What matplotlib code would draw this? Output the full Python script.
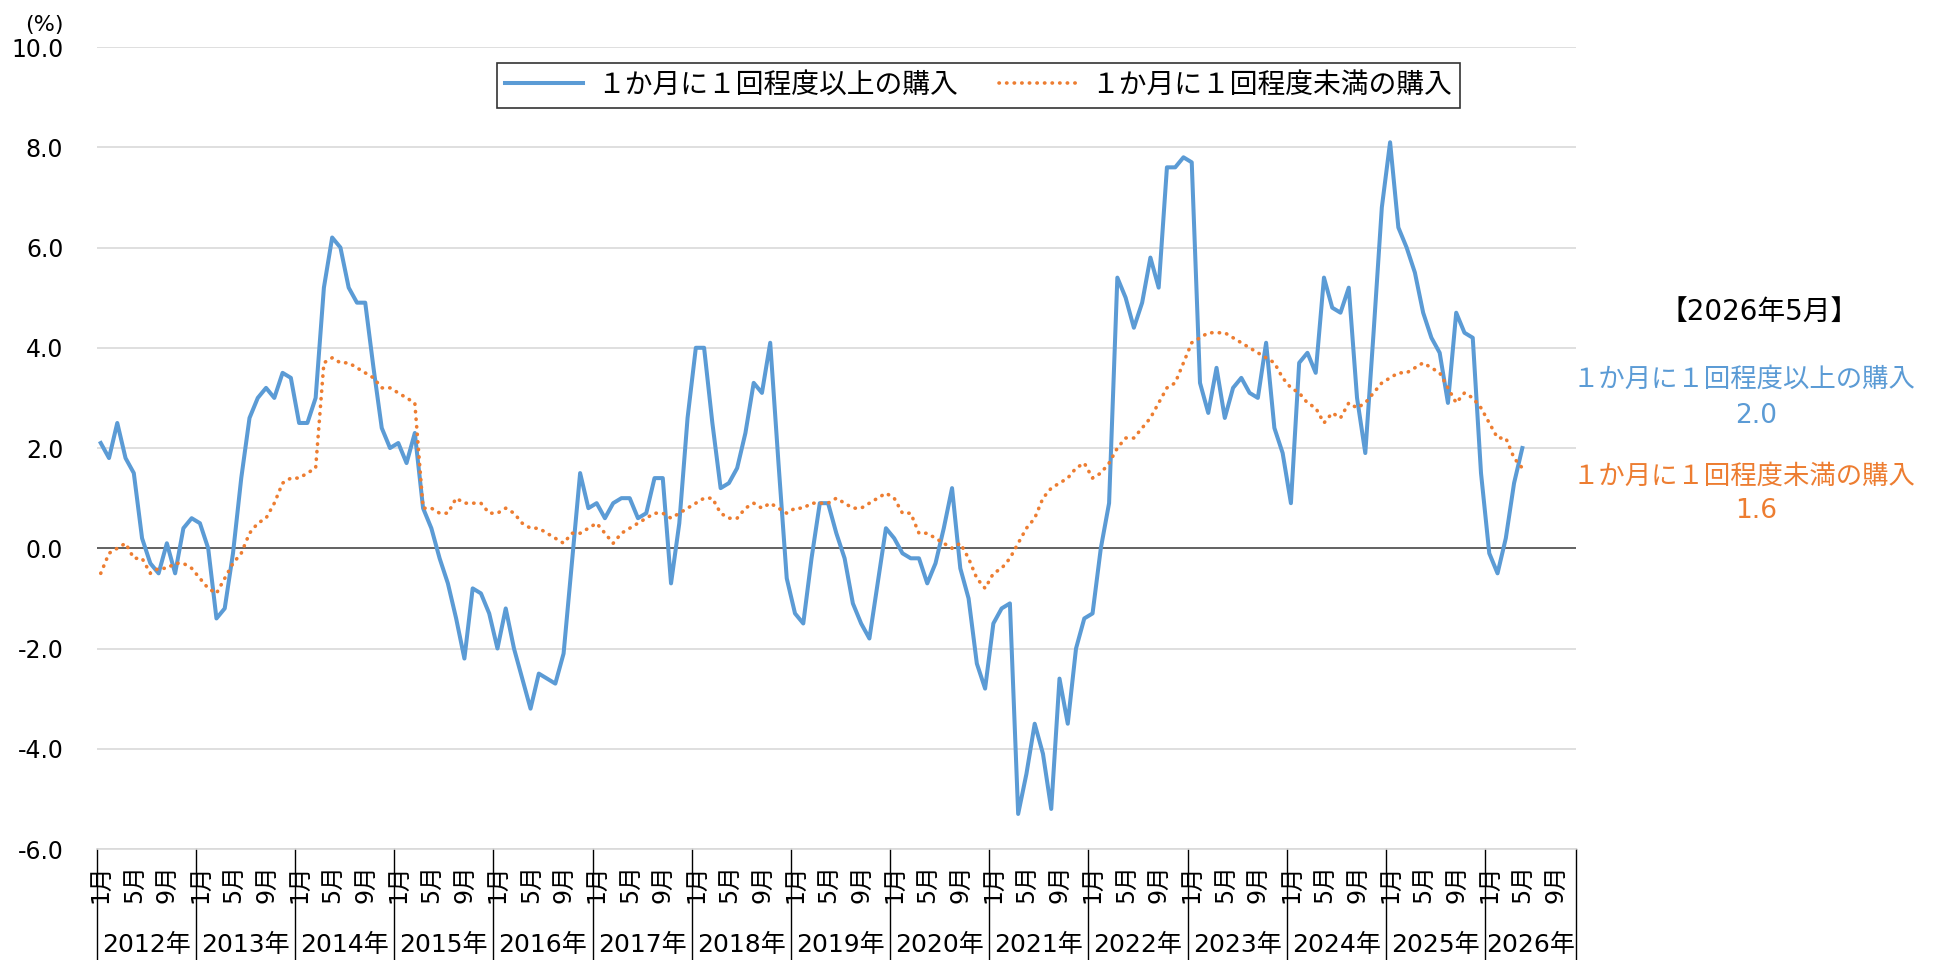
import matplotlib
matplotlib.use("Agg")
import matplotlib.pyplot as plt
import matplotlib.transforms as mtransforms
from matplotlib.lines import Line2D
import numpy as np

plt.rcParams['font.family'] = ['DejaVu Sans', 'Noto Sans CJK JP']

years = list(range(2012, 2027))
n_slots = 14 * 12 + 11          # 軸は2012年1月〜2026年11月
label_months = [1, 5, 9]

name_hi = "１か月に１回程度以上の購入"
name_lo = "１か月に１回程度未満の購入"

# 1か月に1回程度以上の購入 (前年同月比, %)
hi = [2.1, 1.8, 2.5, 1.8, 1.5, 0.2, -0.3, -0.5, 0.1, -0.5, 0.4, 0.6,
      0.5, 0.0, -1.4, -1.2, -0.1, 1.4, 2.6, 3.0, 3.2, 3.0, 3.5, 3.4,
      2.5, 2.5, 3.0, 5.2, 6.2, 6.0, 5.2, 4.9, 4.9, 3.6, 2.4, 2.0,
      2.1, 1.7, 2.3, 0.8, 0.4, -0.2, -0.7, -1.4, -2.2, -0.8, -0.9, -1.3,
      -2.0, -1.2, -2.0, -2.6, -3.2, -2.5, -2.6, -2.7, -2.1, -0.3, 1.5, 0.8,
      0.9, 0.6, 0.9, 1.0, 1.0, 0.6, 0.7, 1.4, 1.4, -0.7, 0.5, 2.6,
      4.0, 4.0, 2.5, 1.2, 1.3, 1.6, 2.3, 3.3, 3.1, 4.1, 1.7, -0.6,
      -1.3, -1.5, -0.2, 0.9, 0.9, 0.3, -0.2, -1.1, -1.5, -1.8, -0.7, 0.4,
      0.2, -0.1, -0.2, -0.2, -0.7, -0.3, 0.4, 1.2, -0.4, -1.0, -2.3, -2.8,
      -1.5, -1.2, -1.1, -5.3, -4.5, -3.5, -4.1, -5.2, -2.6, -3.5, -2.0, -1.4,
      -1.3, 0.0, 0.9, 5.4, 5.0, 4.4, 4.9, 5.8, 5.2, 7.6, 7.6, 7.8,
      7.7, 3.3, 2.7, 3.6, 2.6, 3.2, 3.4, 3.1, 3.0, 4.1, 2.4, 1.9,
      0.9, 3.7, 3.9, 3.5, 5.4, 4.8, 4.7, 5.2, 3.0, 1.9, 4.3, 6.8,
      8.1, 6.4, 6.0, 5.5, 4.7, 4.2, 3.9, 2.9, 4.7, 4.3, 4.2, 1.5,
      -0.1, -0.5, 0.2, 1.3, 2.0]

# 1か月に1回程度未満の購入
lo = [-0.5, -0.1, 0.0, 0.1, -0.2, -0.2, -0.5, -0.4, -0.4, -0.3, -0.3, -0.4,
      -0.6, -0.8, -0.9, -0.6, -0.3, -0.1, 0.3, 0.5, 0.6, 0.9, 1.3, 1.4,
      1.4, 1.5, 1.6, 3.7, 3.8, 3.7, 3.7, 3.6, 3.5, 3.4, 3.2, 3.2,
      3.1, 3.0, 2.9, 0.8, 0.8, 0.7, 0.7, 1.0, 0.9, 0.9, 0.9, 0.7,
      0.7, 0.8, 0.7, 0.5, 0.4, 0.4, 0.3, 0.2, 0.1, 0.3, 0.3, 0.4,
      0.5, 0.3, 0.1, 0.3, 0.4, 0.5, 0.6, 0.7, 0.7, 0.6, 0.7, 0.8,
      0.9, 1.0, 1.0, 0.7, 0.6, 0.6, 0.8, 0.9, 0.8, 0.9, 0.8, 0.7,
      0.8, 0.8, 0.9, 0.9, 0.9, 1.0, 0.9, 0.8, 0.8, 0.9, 1.0, 1.1,
      1.0, 0.7, 0.7, 0.3, 0.3, 0.2, 0.1, 0.0, 0.1, -0.2, -0.6, -0.8,
      -0.5, -0.4, -0.2, 0.1, 0.4, 0.6, 1.0, 1.2, 1.3, 1.4, 1.6, 1.7,
      1.4, 1.5, 1.7, 2.0, 2.2, 2.2, 2.4, 2.6, 2.9, 3.2, 3.3, 3.7,
      4.1, 4.2, 4.3, 4.3, 4.3, 4.2, 4.1, 4.0, 3.9, 3.8, 3.7, 3.4,
      3.2, 3.1, 2.9, 2.8, 2.5, 2.7, 2.6, 2.9, 2.8, 2.9, 3.1, 3.3,
      3.4, 3.5, 3.5, 3.6, 3.7, 3.6, 3.5, 3.2, 2.9, 3.1, 3.0, 2.8,
      2.5, 2.2, 2.2, 1.8, 1.6]

blue = '#5B9BD5'
orange = '#ED7D31'

fig = plt.figure(figsize=(19.4, 9.6), dpi=100)
ax = fig.add_axes([0.0498, 0.1156, 0.7626, 0.8354])

x = np.arange(len(hi))
ax.plot(x, hi, color=blue, lw=2.9, solid_joinstyle='round', label=name_hi, zorder=3)
ax.plot(x, lo, color=orange, lw=2.6, linestyle=(0, (0.1, 2.0)),
        dash_capstyle='round', label=name_lo, zorder=3)

ax.set_xlim(-0.5, n_slots - 0.5)
ax.set_ylim(-6, 10)
yt = np.arange(-6, 10.1, 2)
ax.set_yticks(yt)
ax.set_yticklabels([f"{v:.1f}" for v in yt], fontsize=17)
ax.grid(axis='y', color='#d9d9d9', lw=1.2)
ax.set_axisbelow(True)
ax.axhline(0, color='#404040', lw=1.1, zorder=2)
for s in ['left', 'right', 'top']:
    ax.spines[s].set_visible(False)
ax.spines['bottom'].set_color('#d9d9d9')
ax.spines['bottom'].set_linewidth(1.2)
ax.tick_params(axis='y', length=0, pad=24)

# 月ラベル
ticks, tlabels = [], []
for k, yr in enumerate(years):
    for m in label_months:
        idx = k * 12 + m - 1
        if idx < n_slots:
            ticks.append(idx)
            tlabels.append(f"{m}月")
ax.set_xticks(ticks)
ax.set_xticklabels(tlabels, rotation=90, fontsize=17)
ax.tick_params(axis='x', length=0, pad=11)

# 年ラベルと区切り線
trans = mtransforms.blended_transform_factory(ax.transData, fig.transFigure)
y_axis_bottom = 0.1156
for k, yr in enumerate(years):
    start = k * 12 - 0.5
    end = min(start + 12, n_slots - 0.5)
    ax.text((start + end) / 2, 0.016, f"{yr}年", transform=trans,
            ha='center', va='center', fontsize=18)
    ax.add_line(Line2D([start, start], [y_axis_bottom, 0], transform=trans,
                       color='black', lw=1.0, clip_on=False))
ax.add_line(Line2D([n_slots - 0.5, n_slots - 0.5], [y_axis_bottom, 0], transform=trans,
                   color='black', lw=1.0, clip_on=False))

fig.text(0.0227, 0.974, "(%)", ha='center', va='center', fontsize=16)

leg = fig.legend(loc='upper center', bbox_to_anchor=(0.5044, 0.949), ncol=2,
                 fontsize=20, frameon=True, fancybox=False, edgecolor='black',
                 handlelength=2.8, handletextpad=0.5, columnspacing=1.5,
                 borderpad=0.3)
leg.get_frame().set_linewidth(1.2)

fig.text(0.907, 0.674, "【2026年5月】", ha='center', va='center', fontsize=20)
fig.text(0.899, 0.604, name_hi, ha='center', va='center', fontsize=19, color=blue)
fig.text(0.905, 0.567, f"{hi[-1]:.1f}", ha='center', va='center', fontsize=19, color=blue)
fig.text(0.899, 0.503, name_lo, ha='center', va='center', fontsize=19, color=orange)
fig.text(0.905, 0.468, f"{lo[-1]:.1f}", ha='center', va='center', fontsize=19, color=orange)

fig.savefig("out.png", dpi=100)
